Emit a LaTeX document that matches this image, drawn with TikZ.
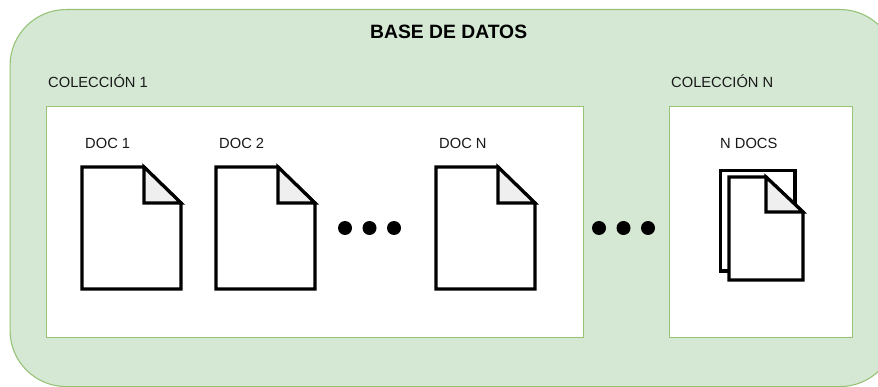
\documentclass[tikz,border=0pt]{standalone}
\usepackage{fontspec}
\setmainfont{Liberation Sans}
\definecolor{gfill}{HTML}{D5E8D4}
\definecolor{gline}{HTML}{97C377}
\definecolor{foldc}{HTML}{EFEFEF}
\tikzset{
  coll/.style={draw=gline,fill=white,line width=0.9pt},
  outerbox/.style={draw=gline,fill=gfill,line width=1.1pt,rounded corners=56pt},
  sheet/.style={draw=black,fill=white,line width=3.2pt,line join=miter},
  foldpart/.style={draw=black,fill=foldc,line width=3.2pt,line join=miter},
  lab/.style={inner sep=0pt,anchor=base west,text=black!90,font=\fontsize{14.7}{16}\selectfont},
  dotmark/.style={circle,fill=black,inner sep=0pt,minimum size=14pt}
}
\newcommand{\docshape}[6]{% x1 y1 x2 y2 foldx foldy
  \draw[sheet] (#1,#2) -- (#5,#2) -- (#3,#6) -- (#3,#4) -- (#1,#4) -- cycle;
  \draw[foldpart] (#5,#2) -- (#5,#6) -- (#3,#6) -- cycle;
}
\begin{document}
\begin{tikzpicture}[x=1pt,y=-1pt]
\useasboundingbox (0,0) rectangle (878,387);
\begin{scope}
\clip (0,0) rectangle (878,387);
\node[outerbox,minimum width=886pt,minimum height=377pt,inner sep=0pt,anchor=north west] (db) at (9.5,9) {};
\end{scope}
\node[coll,minimum width=537pt,minimum height=231pt,inner sep=0pt,anchor=north west] (c1) at (46,106) {};
\node[coll,minimum width=183pt,minimum height=231pt,inner sep=0pt,anchor=north west] (cn) at (669,106) {};
\node[lab,font=\fontsize{19.3}{21}\selectfont\bfseries,text=black] (title) at (370,39) {BASE DE DATOS};
\node[lab] (lc1) at (48,88) {COLECCIÓN 1};
\node[lab] (lcn) at (671,88) {COLECCIÓN N};
\node[lab] (ld1) at (85,149) {DOC 1};
\node[lab] (ld2) at (219,149) {DOC 2};
\node[lab] (ldn) at (439,149) {DOC N};
\node[lab] (lnd) at (720,149) {N DOCS};
\docshape{82}{167}{181}{289}{144}{203}
\docshape{216}{167}{315}{289}{278}{203}
\docshape{436}{167}{535}{289}{498}{203}
\draw[sheet] (720.5,170.5) rectangle (795,271);
\docshape{729}{177}{803}{280}{766}{212}
\foreach \n/\x in {a/345,b/369.5,c/394,d/599,e/623.5,f/648}
  \node[dotmark] (dot\n) at (\x,228) {};
\end{tikzpicture}
\end{document}
